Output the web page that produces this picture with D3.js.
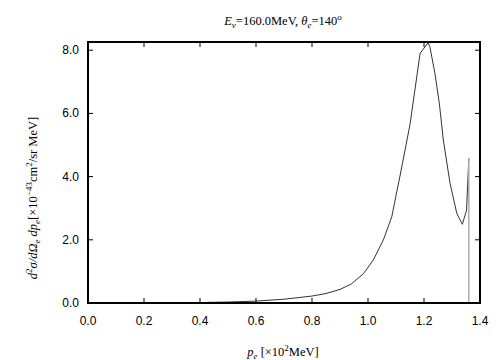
<!DOCTYPE html>
<html>
<head>
<meta charset="utf-8">
<script src="https://cdn.jsdelivr.net/npm/d3@7"></script>
<style>
  body { margin: 0; background: #fff; }
  .tick-label { font-family: "Liberation Sans", Arial, sans-serif; font-size: 12px; }
  .serif { font-family: "Liberation Serif", "Times New Roman", serif; font-size: 12.5px; }
</style>
</head>
<body>
<svg id="chart" width="504" height="360"></svg>
<script>
// momentum of the electron [x10^2 MeV]
var momentum = [0.425, 0.5, 0.6, 0.7, 0.8, 0.85, 0.9, 0.94, 0.983, 1.019, 1.055, 1.085, 1.1,
                1.115, 1.15, 1.186, 1.215, 1.221, 1.239, 1.255, 1.269, 1.293, 1.317,
                1.337, 1.352, 1.36];
// double differential cross section [x10^-43 cm^2/sr MeV]
var crossSection = [0.02, 0.03, 0.06, 0.12, 0.22, 0.3, 0.43, 0.6, 0.92, 1.36, 2.0, 2.73, 3.4,
                    4.05, 5.65, 7.9, 8.24, 8.11, 7.27, 6.3, 5.16, 3.79, 2.84,
                    2.49, 2.94, 4.58];
var xTicks = [0.0, 0.2, 0.4, 0.6, 0.8, 1.0, 1.2, 1.4];
var yTicks = [0.0, 2.0, 4.0, 6.0, 8.0];

var plot = {'left': 88, 'right': 480, 'top': 42, 'bottom': 303};
var tickLen = 5;

var svg = d3.select('#chart');

var x = d3.scaleLinear().domain([0, 1.4]).range([plot.left, plot.right]);
var y = d3.scaleLinear().domain([0, 8.26]).range([plot.bottom, plot.top]);

var points = momentum.map(function(p, i) { return [p, crossSection[i]]; });

var line = d3.line()
    .x(function(d) { return x(d[0]); })
    .y(function(d) { return y(d[1]); });

svg.append('path')
    .datum(points)
    .attr('d', line)
    .attr('fill', 'none')
    .attr('stroke', '#333')
    .attr('stroke-width', 1);

// kinematic end point: drop to zero
var last = points[points.length - 1];
svg.append('path')
    .datum([last, [last[0], 0]])
    .attr('d', line)
    .attr('fill', 'none')
    .attr('stroke', '#aaa')
    .attr('stroke-width', 1.5);

// ticks on all four sides, pointing inward
var tickG = svg.append('g').attr('stroke', '#000').attr('stroke-width', 1);
xTicks.forEach(function(t) {
    tickG.append('line').attr('x1', x(t)).attr('x2', x(t))
        .attr('y1', plot.bottom).attr('y2', plot.bottom - tickLen);
    tickG.append('line').attr('x1', x(t)).attr('x2', x(t))
        .attr('y1', plot.top).attr('y2', plot.top + tickLen);
});
yTicks.forEach(function(t) {
    tickG.append('line').attr('x1', plot.left).attr('x2', plot.left + tickLen)
        .attr('y1', y(t)).attr('y2', y(t));
    tickG.append('line').attr('x1', plot.right).attr('x2', plot.right - tickLen)
        .attr('y1', y(t)).attr('y2', y(t));
});

svg.append('rect')
    .attr('x', plot.left).attr('y', plot.top)
    .attr('width', plot.right - plot.left).attr('height', plot.bottom - plot.top)
    .attr('fill', 'none').attr('stroke', '#000').attr('stroke-width', 2);

svg.selectAll('text.xt')
    .data(xTicks)
    .enter().append('text')
    .attr('class', 'tick-label xt')
    .attr('x', function(d) { return x(d); })
    .attr('y', plot.bottom + 22)
    .attr('text-anchor', 'middle')
    .text(function(d) { return d.toFixed(1); });

svg.selectAll('text.yt')
    .data(yTicks)
    .enter().append('text')
    .attr('class', 'tick-label yt')
    .attr('x', plot.left - 9)
    .attr('y', function(d) { return y(d) + 4; })
    .attr('text-anchor', 'end')
    .text(function(d) { return d.toFixed(1); });

// title
var title = svg.append('text').attr('class', 'serif')
    .attr('x', 283).attr('y', 25).attr('text-anchor', 'middle');
title.append('tspan').attr('font-style', 'italic').text('E');
title.append('tspan').attr('font-style', 'italic').attr('font-size', 9).attr('dy', 3).text('ν');
title.append('tspan').attr('dy', -3).text('=160.0MeV,  ');
title.append('tspan').attr('font-style', 'italic').text('θ');
title.append('tspan').attr('font-style', 'italic').attr('font-size', 9).attr('dy', 3).text('e');
title.append('tspan').attr('dy', -3).text('=140');
title.append('tspan').attr('font-size', 9).attr('dy', -5).text('o');

// x axis label
var xl = svg.append('text').attr('class', 'serif')
    .attr('x', 283).attr('y', 356).attr('text-anchor', 'middle');
xl.append('tspan').attr('font-style', 'italic').text('p');
xl.append('tspan').attr('font-style', 'italic').attr('font-size', 9).attr('dy', 3).text('e');
xl.append('tspan').attr('dy', -3).text(' [×10');
xl.append('tspan').attr('font-size', 9).attr('dy', -5).text('2');
xl.append('tspan').attr('dy', 5).text('MeV]');

// y axis label
var yl = svg.append('text').attr('class', 'serif')
    .attr('transform', 'translate(37,198) rotate(-90)')
    .attr('text-anchor', 'middle');
yl.append('tspan').attr('font-style', 'italic').text('d');
yl.append('tspan').attr('font-size', 9).attr('dy', -5).text('2');
yl.append('tspan').attr('font-style', 'italic').attr('dy', 5).text('σ/dΩ');
yl.append('tspan').attr('font-style', 'italic').attr('font-size', 9).attr('dy', 3).text('e');
yl.append('tspan').attr('font-style', 'italic').attr('dy', -3).text(' dp');
yl.append('tspan').attr('font-style', 'italic').attr('font-size', 9).attr('dy', 3).text('e');
yl.append('tspan').attr('dy', -3).text('[×10');
yl.append('tspan').attr('font-size', 9).attr('dy', -5).text('−43');
yl.append('tspan').attr('dy', 5).text('cm');
yl.append('tspan').attr('font-size', 9).attr('dy', -5).text('2');
yl.append('tspan').attr('dy', 5).text('/sr MeV]');
</script>
</body>
</html>
